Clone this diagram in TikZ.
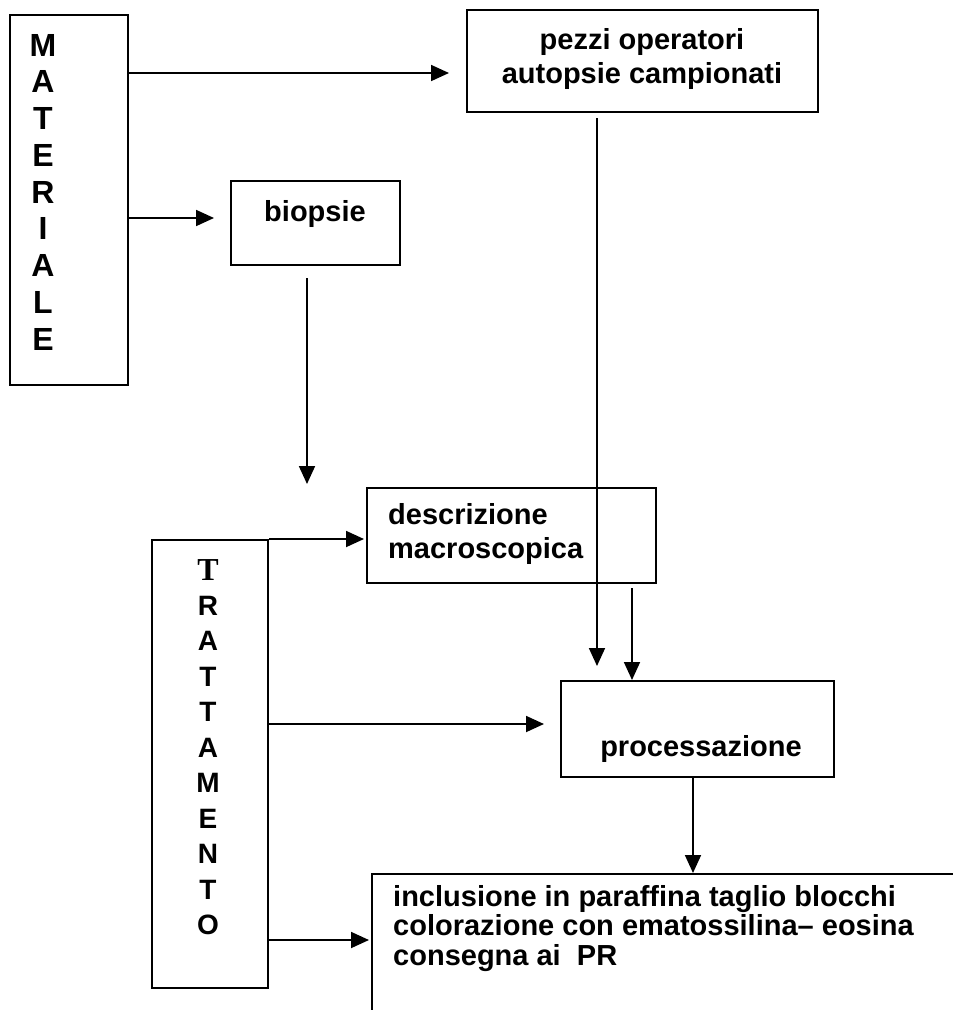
\documentclass[tikz,border=0pt]{standalone}
\usepackage{fontspec}
\setmainfont{Liberation Sans}
\newfontfamily\serifT{Liberation Serif}
\usetikzlibrary{arrows.meta}
\tikzset{
  box/.style={draw=black, line width=2pt, inner sep=0pt},
  boxtext/.style={font=\fontsize{29}{34}\selectfont\bfseries, inner sep=0pt},
  bigletter/.style={font=\fontsize{32}{32}\selectfont\bfseries, inner sep=0pt},
  letter/.style={font=\fontsize{28}{28}\selectfont\bfseries, inner sep=0pt},
  arrow/.style={-{Triangle[length=18pt, width=16pt]}, line width=1.8pt}
}

\begin{document}
\begin{tikzpicture}[x=1pt, y=-1pt]
  \useasboundingbox (0,0) rectangle (953,1010);
  \clip (0,0) rectangle (953,1010);
  % boxes
  \node[box, minimum width=118pt, minimum height=370pt] (mat) at (69,200) {};
  \node[box, minimum width=351pt, minimum height=102pt] (pez) at (642.5,61) {};
  \node[box, minimum width=169pt, minimum height=84pt] (bio) at (315.5,223) {};
  \node[box, minimum width=289pt, minimum height=95pt] (descr) at (511.5,535.5) {};
  \node[box, minimum width=116pt, minimum height=448pt] (trt) at (210,764) {};
  \node[box, minimum width=273pt, minimum height=96pt] (proc) at (697.5,729) {};
  \node[box, minimum width=628pt, minimum height=176pt] (inc) at (686,962) {};
  % vertical words
  \foreach \ch [count=\i] in {M,A,T,E,R,I,A,L,E}
    \node[bigletter] (mat\i) at (43,{45+36.75*(\i-1)}) {\ch};
  \node[font=\fontsize{32}{32}\selectfont\serifT\bfseries, inner sep=0pt] (trt1) at (208,570) {T};
  \foreach \ch [count=\i from 2] in {R,A,T,T,A,M,E,N,T,O}
    \node[letter] (trt\i) at (208,{570+35.5*(\i-1)}) {\ch};
  % texts
  \node[boxtext, align=center, anchor=base] (peztxt) at (642,83) {pezzi operatori\\autopsie campionati};
  \node[boxtext, anchor=base] (biotxt) at (315,221) {biopsie};
  \node[boxtext, align=left, anchor=base west] (descrtxt) at (388,558) {descrizione\\macroscopica};
  \node[boxtext, anchor=base] (proctxt) at (701,756) {processazione};
  \node[boxtext, align=left, anchor=base west, font=\fontsize{29}{29.5}\selectfont\bfseries] (inctxt) at (393,965)
    {inclusione in paraffina taglio blocchi\\colorazione con ematossilina-- eosina\\consegna ai\ \ PR};
  % connectors
  \draw[arrow, shorten >=17pt] (mat.east |- 0,73) -- (pez.west |- 0,73);
  \draw[arrow, shorten >=16pt] (mat.east |- 0,218) -- (bio.west |- 0,218);
  \draw[arrow, shorten <=12pt, shorten >=3pt] (bio.south -| 307,0) -- (descr.north -| 307,0);
  \draw[arrow, shorten <=5pt, shorten >=14pt] (pez.south -| 597,0) -- (proc.north -| 597,0);
  \draw[arrow, shorten <=4pt] (descr.south -| 632,0) -- (proc.north -| 632,0);
  \draw[arrow] (proc.south -| 693,0) -- (inc.north -| 693,0);
  \draw[arrow, shorten >=2pt] (trt.north east) -- (descr.west |- trt.north east);
  \draw[arrow, shorten >=16pt] (trt.east |- 0,724) -- (proc.west |- 0,724);
  \draw[arrow, shorten >=2pt] (trt.east |- 0,940) -- (inc.west |- 0,940);
\end{tikzpicture}
\end{document}
